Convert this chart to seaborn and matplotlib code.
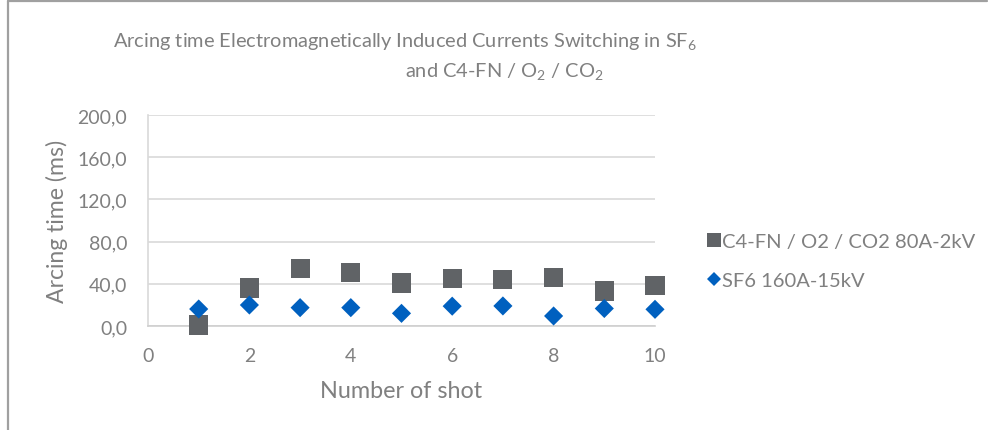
import matplotlib
matplotlib.use("Agg")
import matplotlib.pyplot as plt
from matplotlib.lines import Line2D
import seaborn as sns
import pandas as pd

shots = [1, 2, 3, 4, 5, 6, 7, 8, 9, 10]
c4fn_values = [1.0, 36.0, 54.3, 51.0, 40.8, 44.9, 44.3, 46.0, 33.2, 38.0]
sf6_values = [16.1, 19.9, 17.4, 17.4, 12.0, 18.8, 19.0, 9.5, 16.6, 15.8]
c4fn_label = "C4-FN / O2 / CO2 80A-2kV"
sf6_label = "SF6 160A-15kV"
y_ticks = [0, 40, 80, 120, 160, 200]
x_ticks = [0, 2, 4, 6, 8, 10]

sns.set_theme(style="white")
plt.rcParams['font.family'] = ['Lato', 'DejaVu Sans']
plt.rcParams['mathtext.fontset'] = 'custom'
plt.rcParams['mathtext.rm'] = 'Lato'
plt.rcParams['mathtext.it'] = 'Lato'

TXT = "#808080"
GRID = "#d9d9d9"
SQ = "#606366"
BLUE = "#0060BF"

W, H = 988, 431
fig = plt.figure(figsize=(W / 100, H / 100), dpi=100)
fig.patch.set_facecolor("white")

ax = fig.add_axes([148 / W, (H - 327) / H, (655 - 148) / W, (327 - 116) / H])

df_c4 = pd.DataFrame({"shot": shots, "time": c4fn_values})
df_sf6 = pd.DataFrame({"shot": shots, "time": sf6_values})

sns.scatterplot(data=df_c4, x="shot", y="time", ax=ax, marker="s", s=190,
                color=SQ, edgecolor="none", linewidth=0, zorder=3, clip_on=False)
sns.scatterplot(data=df_sf6, x="shot", y="time", ax=ax, marker="D", s=95,
                color=BLUE, edgecolor="none", linewidth=0, zorder=4, clip_on=False)

ax.set_xlim(0, 10)
ax.set_ylim(0, 200)
ax.set_xticks(x_ticks)
ax.set_xticklabels([str(v) for v in x_ticks])
ax.set_yticks(y_ticks)
ax.set_yticklabels([f"{v:.1f}".replace(".", ",") for v in y_ticks])
ax.tick_params(axis="both", length=0, labelsize=14, colors=TXT)
ax.tick_params(axis="x", pad=15)
ax.tick_params(axis="y", pad=15)

ax.grid(axis="y", color=GRID, linewidth=1.2)
ax.set_axisbelow(True)
for side in ["top", "right"]:
    ax.spines[side].set_visible(False)
ax.spines["left"].set_color(GRID)
ax.spines["left"].set_linewidth(1.2)
ax.spines["bottom"].set_color("#cfcfcf")
ax.spines["bottom"].set_linewidth(1.2)

ax.set_xlabel("Number of shot", fontsize=16.8, color=TXT, labelpad=12)
ax.set_ylabel("Arcing time (ms)", fontsize=16.6, color=TXT, labelpad=7)

fig.text(405 / W, 1 - 41 / H, "Arcing time Electromagnetically Induced Currents Switching in SF$_6$",
         ha="center", va="center", fontsize=14.4, color=TXT)
fig.text(504 / W, 1 - 71 / H, "and C4-FN / O$_2$ / CO$_2$",
         ha="center", va="center", fontsize=14.4, color=TXT)

handles = [
    Line2D([], [], linestyle="none", marker="s", markersize=10, color=SQ, markeredgewidth=0),
    Line2D([], [], linestyle="none", marker="D", markersize=7.6, color=BLUE, markeredgewidth=0),
]
leg = fig.legend(handles, [c4fn_label, sf6_label], loc="center left",
                 bbox_to_anchor=(696 / W, 1 - 262 / H), frameon=False,
                 fontsize=14.5, labelcolor=TXT, handlelength=0.75, handletextpad=0.05,
                 labelspacing=1.05, borderpad=0)

border_col = "#a0a0a0"
fig.add_artist(Line2D([8 / W, 8 / W], [0, 1 - 1.5 / H], transform=fig.transFigure,
                      color=border_col, linewidth=1.6))
fig.add_artist(Line2D([8 / W, 987 / W], [1 - 1.5 / H, 1 - 1.5 / H], transform=fig.transFigure,
                      color=border_col, linewidth=1.6))

fig.savefig("out.png", dpi=100, facecolor="white")
